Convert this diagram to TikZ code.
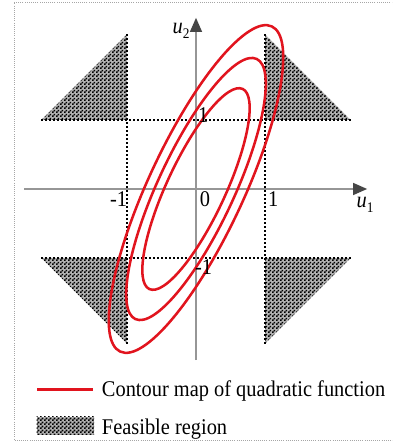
\documentclass[tikz,border=0pt]{standalone}
\usepackage{fontspec}
\setmainfont{Liberation Serif}
\usetikzlibrary{arrows.meta,patterns}
\pgfdeclarepatternformonly{finechecker}{\pgfpointorigin}{\pgfqpoint{3pt}{3pt}}{\pgfqpoint{3pt}{3pt}}{%
  \pgfpathrectangle{\pgfpointorigin}{\pgfqpoint{1.5pt}{1.5pt}}%
  \pgfpathrectangle{\pgfqpoint{1.5pt}{1.5pt}}{\pgfqpoint{1.5pt}{1.5pt}}%
  \pgfusepath{fill}}
\definecolor{cred}{RGB}{225,20,30}
\definecolor{axgray}{RGB}{150,150,150}
\definecolor{arrgray}{RGB}{70,70,70}
\newcommand{\tallt}[1]{\scalebox{1}[1.1]{#1}}
\tikzset{
  feas/.style={fill=gray!60, postaction={pattern=finechecker, pattern color=black}},
  guide/.style={black, line width=1.1pt, dash pattern=on 1.1pt off 1.9pt},
  contour/.style={cred, line width=1.9pt},
  axis/.style={axgray, line width=1pt, -{Triangle[length=10.5pt,width=9pt,fill=arrgray,color=arrgray]}},
  lbl/.style={inner sep=0pt, font=\fontsize{15.3}{18}\selectfont},
}
\newcommand{\uvar}[1]{\textit{u}\raisebox{-0.45ex}{\fontsize{10}{12}\selectfont #1}}
\begin{document}
\begin{tikzpicture}[x=51.75pt,y=51.75pt]
\useasboundingbox (-2.8406,-3.6522) rectangle (2.8406,2.7391);
\clip (-2.8406,-3.6522) rectangle (2.8406,2.7391);
% frame
\draw[gray!70, line width=0.6pt, densely dotted] (3,2.710) -- (-2.638,2.710) -- (-2.638,-3.638) -- (3,-3.638);
% feasible triangles
\fill[feas] (-1,1) -- (-2.24,1) -- (-1,2.24) -- cycle;
\fill[feas] (1,1) -- (2.24,1) -- (1,2.24) -- cycle;
\fill[feas] (-1,-1) -- (-2.24,-1) -- (-1,-2.24) -- cycle;
\fill[feas] (1,-1) -- (2.24,-1) -- (1,-2.24) -- cycle;
% dotted guides
\coordinate (hl1) at (-2.24,1); \coordinate (hr1) at (2.24,1);
\coordinate (hl2) at (-2.24,-1); \coordinate (hr2) at (2.24,-1);
\coordinate (vt1) at (-1,2.24); \coordinate (vb1) at (-1,-2.24);
\coordinate (vt2) at (1,2.24); \coordinate (vb2) at (1,-2.24);
\draw[guide] (hl1) -- (hr1);
\draw[guide] (hl2) -- (hr2);
\draw[guide] (vt1) -- (vb1);
\draw[guide] (vt2) -- (vb2);
% axes
\coordinate (xs) at (-2.49,0); \coordinate (xe) at (2.48,0);
\coordinate (ys) at (0,-2.48); \coordinate (ye) at (0,2.48);
\draw[axis] (xs) -- (xe);
\draw[axis] (ys) -- (ye);
% contours
\draw[contour, rotate=65] (0,0) ellipse [x radius=2.60, y radius=0.69];
\draw[contour, rotate=65] (0,0) ellipse [x radius=2.08, y radius=0.552];
\draw[contour, rotate=65] (0,0) ellipse [x radius=1.60, y radius=0.424];
% labels
\node[lbl] (tm1x) at (-1.123,-0.145) {\tallt{-1}};
\node[lbl] (t0) at (0.13,-0.145) {\tallt{0}};
\node[lbl] (t1x) at (1.12,-0.145) {\tallt{1}};
\node[lbl] (t1y) at (0.106,1.068) {\tallt{1}};
\node[lbl] (tm1y) at (0.11,-1.138) {\tallt{-1}};
\node[lbl] (u2) at (-0.217,2.29) {\tallt{\uvar{2}}};
\node[lbl] (u1) at (2.449,-0.232) {\tallt{\uvar{1}}};
% legend
\coordinate (la) at (-2.300,-2.903); \coordinate (lb) at (-1.488,-2.903);
\draw[contour] (la) -- (lb);
\node[lbl, anchor=base west] (lt1) at (-1.367,-3.010) {\tallt{Contour map of quadratic function}};
\fill[feas] (-2.309,-3.300) rectangle (-1.478,-3.565);
\node[lbl, anchor=base west] (lt2) at (-1.367,-3.565) {\tallt{Feasible region}};
\end{tikzpicture}
\end{document}
